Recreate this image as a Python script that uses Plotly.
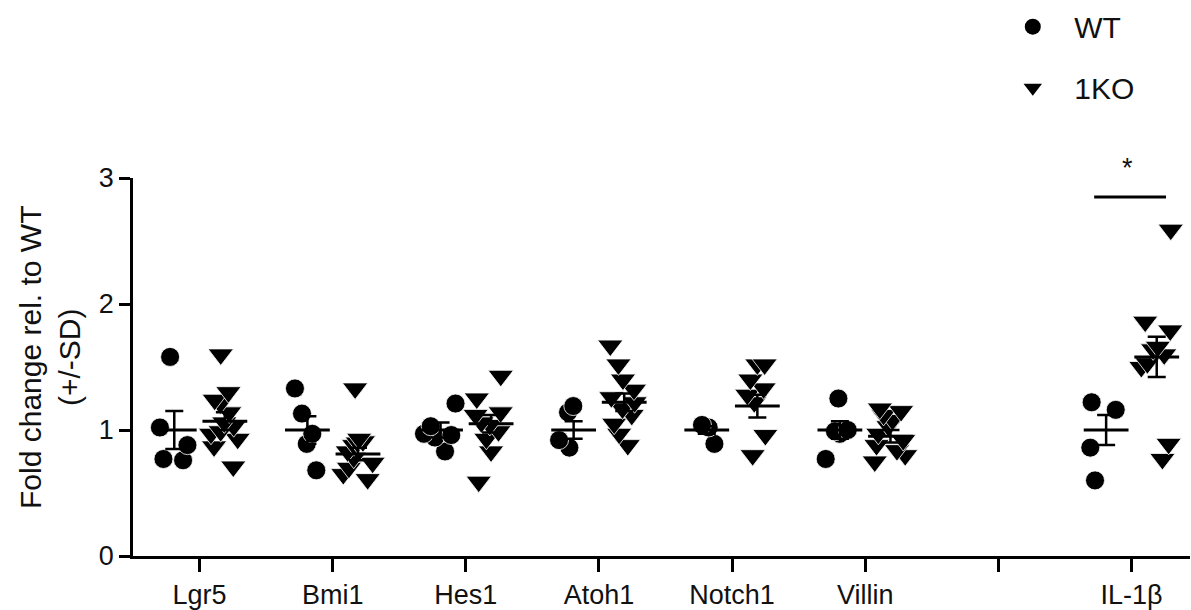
import plotly.graph_objects as go

# ---------------- data ----------------
categories = ["Lgr5", "Bmi1", "Hes1", "Atoh1", "Notch1", "Villin", "", "IL-1β"]

lgr5_wt = [1.58, 1.02, 0.88, 0.77, 0.76]
lgr5_ko = [1.60, 1.30, 1.24, 1.21, 1.14, 1.06, 1.03, 0.99, 0.97, 0.93, 0.87, 0.71]
bmi1_wt = [1.33, 1.13, 0.97, 0.89, 0.68]
bmi1_ko = [1.33, 0.93, 0.91, 0.90, 0.88, 0.83, 0.78, 0.74, 0.70, 0.65, 0.61]
hes1_wt = [1.21, 1.03, 0.97, 0.96, 0.94, 0.83]
hes1_ko = [1.43, 1.25, 1.14, 1.12, 1.06, 1.04, 0.99, 0.93, 0.83, 0.59]
atoh1_wt = [1.19, 1.14, 0.92, 0.86]
atoh1_ko = [1.67, 1.52, 1.40, 1.32, 1.26, 1.22, 1.17, 1.12, 1.05, 0.97, 0.88]
notch1_wt = [1.04, 1.02, 0.89]
notch1_ko = [1.52, 1.52, 1.40, 1.33, 1.28, 1.22, 0.96, 0.80]
villin_wt = [1.25, 1.00, 0.99, 0.97, 0.77]
villin_ko = [1.17, 1.15, 1.12, 1.08, 1.03, 0.97, 0.92, 0.88, 0.84, 0.80, 0.75]
il1b_wt = [1.22, 1.16, 0.86, 0.60]
il1b_ko = [2.59, 1.86, 1.79, 1.66, 1.64, 1.60, 1.53, 1.50, 0.89, 0.77]

wt_mean = [1.00, 1.00, 1.00, 1.00, 1.00, 1.00, None, 1.00]
wt_err = [0.15, 0.11, 0.06, 0.07, 0.03, 0.07, 0, 0.12]
ko_mean = [1.07, 0.81, 1.05, 1.22, 1.19, 0.95, None, 1.58]
ko_err = [0.07, 0.05, 0.07, 0.07, 0.09, 0.05, 0, 0.16]

y_ticks = [0, 1, 2, 3]

sig_text = "*"
sig_level = 2.85
sig_star_level = 3.08
sig_category = 7

# ---------------- styling ----------------
FONT = "Liberation Sans, Arial, sans-serif"
INK = "#111111"
WT_OFF, KO_OFF = -0.19, 0.19
Y_MAX = y_ticks[-1]

wt_groups = [lgr5_wt, bmi1_wt, hes1_wt, atoh1_wt, notch1_wt, villin_wt, [], il1b_wt]
ko_groups = [lgr5_ko, bmi1_ko, hes1_ko, atoh1_ko, notch1_ko, villin_ko, [], il1b_ko]


def points_trace(groups, off, symbol, size):
    xs, ys = [], []
    for i, g in enumerate(groups):
        xs += [i + off] * len(g)
        ys += g
    return go.Box(
        x=xs, y=ys, boxpoints="all", jitter=0.85, pointpos=0, width=0.3,
        fillcolor="rgba(0,0,0,0)", line=dict(width=0, color="rgba(0,0,0,0)"),
        whiskerwidth=0,
        marker=dict(symbol=symbol, size=size, color="black",
                    line=dict(width=0.8, color="white")),
        showlegend=False, hoverinfo="skip",
    )


def mean_trace(means, errs, off):
    xs = [i + off for i in range(len(means))]
    return go.Scatter(
        x=xs, y=means, mode="markers",
        marker=dict(symbol="line-ew", size=32, color="black",
                    line=dict(width=3, color="black")),
        error_y=dict(type="data", array=errs, color="black", thickness=2.5, width=9),
        showlegend=False, hoverinfo="skip",
    )


fig = go.Figure()
fig.add_trace(points_trace(wt_groups, WT_OFF, "circle", 19))
fig.add_trace(points_trace(ko_groups, KO_OFF, "triangle-down", 22))
fig.add_trace(mean_trace(wt_mean, wt_err, WT_OFF))
fig.add_trace(mean_trace(ko_mean, ko_err, KO_OFF))

# legend entries
fig.add_trace(go.Scatter(x=[None], y=[None], mode="markers", name="WT", legendgroup="wt",
                         marker=dict(symbol="circle", size=16, color="black")))
fig.add_trace(go.Scatter(x=[None], y=[None], mode="markers", name="1KO", legendgroup="ko",
                         marker=dict(symbol="triangle-down", size=16, color="black")))

# significance bar and star
fig.add_shape(type="line", xref="x", yref="y",
              x0=sig_category - 0.28, x1=sig_category + 0.26,
              y0=sig_level, y1=sig_level, line=dict(color="black", width=3))
fig.add_annotation(x=sig_category - 0.03, y=sig_star_level / Y_MAX, xref="x", yref="paper",
                   text=sig_text, showarrow=False, xanchor="center", yanchor="middle",
                   font=dict(size=27, color=INK, family=FONT))

# y-axis title
fig.add_annotation(x=0, y=0.5, xref="paper", yref="paper", xshift=-83, yshift=9,
                   xanchor="center", yanchor="middle",
                   text="Fold change rel. to WT<br>(+/-SD)", textangle=-90,
                   showarrow=False, align="center",
                   font=dict(size=30, color=INK, family=FONT))

fig.update_layout(
    width=1191, height=610,
    margin=dict(l=133, r=1, t=173, b=54),
    paper_bgcolor="white", plot_bgcolor="white",
    font=dict(family=FONT, color=INK, size=27),
    showlegend=True,
    legend=dict(x=0.812, y=1.469, xanchor="left", yanchor="top",
                font=dict(size=30, family=FONT, color=INK),
                itemwidth=73, tracegroupgap=19, traceorder="grouped",
                bgcolor="rgba(0,0,0,0)"),
    xaxis=dict(range=[-0.5, 7.44], tickmode="array", tickvals=list(range(len(categories))),
               ticktext=categories, showline=True, linewidth=2.5, linecolor="black",
               ticks="outside", ticklen=13, tickwidth=2.5, tickcolor="black",
               showgrid=False, zeroline=False, tickfont=dict(size=27)),
    yaxis=dict(range=[0, Y_MAX], tickmode="array", tickvals=y_ticks,
               showline=True, linewidth=2.5, linecolor="black",
               ticks="outside", ticklen=11, tickwidth=2.5, tickcolor="black",
               showgrid=False, zeroline=False, tickfont=dict(size=27)),
)

fig.write_html("out.html", config={"displayModeBar": False},
               post_script="document.body.style.margin='0';document.body.style.overflow='hidden';")
